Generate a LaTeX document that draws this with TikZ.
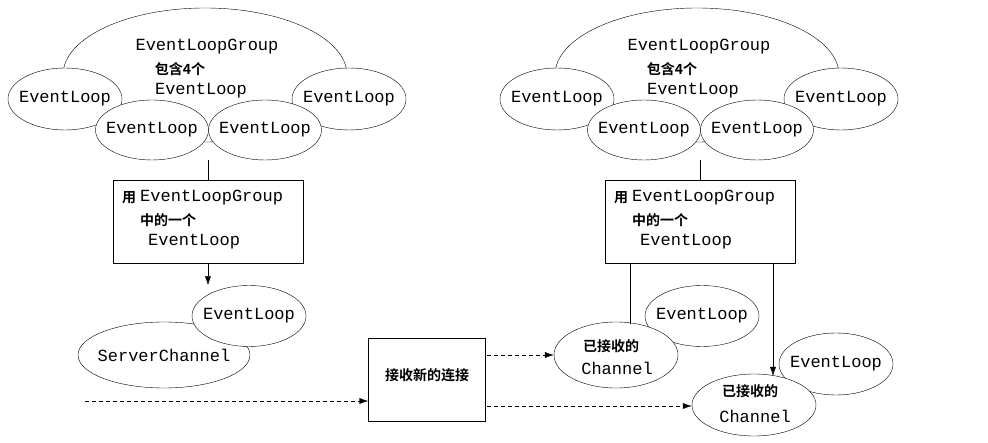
\documentclass[tikz,border=0pt]{standalone}
\usepackage{fontspec}
\setmonofont{Liberation Mono}
\newfontfamily\cjk{Noto Sans CJK SC}[BoldFont={Noto Sans CJK SC Bold}]
\usetikzlibrary{shapes.geometric,arrows.meta}
\begin{document}
\begin{tikzpicture}[x=1pt,y=-1pt,
  el/.style 2 args={draw,ellipse,fill=white,minimum width=#1,minimum height=#2,inner sep=0pt},
  tt/.style={font=\fontsize{17}{18}\selectfont\ttfamily,inner sep=0pt},
  zh/.style={font=\fontsize{14}{16}\selectfont\cjk\bfseries,inner sep=0pt},
  box/.style={draw,fill=white},
  arr/.style={-{Latex[length=9pt,width=6pt]}},
  darr/.style={arr,dash pattern=on 4pt off 3pt}]
\useasboundingbox (0,0) rectangle (988,443);
\foreach \s/\p in {0/L,492/R}{
\begin{scope}[xshift=\s]
\node[el={284pt}{134pt}] (\p g) at (205,75) {};
\node[tt] (\p gt) at (207,47) {EventLoopGroup};
\node[zh] (\p gz) at (180,69) {包含4个};
\node[tt] (\p ge) at (201,91) {EventLoop};
\node[el={114pt}{62pt},label={[tt]center:EventLoop}] (\p e1) at (65,99) {};
\node[el={114pt}{62pt},label={[tt]center:EventLoop}] (\p e4) at (349,99) {};
\node[el={113pt}{60pt},label={[tt]center:EventLoop}] (\p e2) at (152,130) {};
\node[el={113pt}{60pt},label={[tt]center:EventLoop}] (\p e3) at (265,130) {};
\draw[box] (113,180) rectangle (303,263);
\node[zh,anchor=west] (\p b1) at (122,198) {用};
\node[tt,anchor=west] (\p b2) at (140,198) {EventLoopGroup};
\node[zh,anchor=west] (\p b3) at (140,220) {中的一个};
\node[tt,anchor=west] (\p b4) at (148,242) {EventLoop};
\coordinate (\p top) at (208,180);
\coordinate (\p mid) at (208,160);
\end{scope}}
\draw (Lmid) -- (Ltop);
\draw (Rmid) -- (Rtop);
% left bottom
\node[el={172pt}{66pt},label={[tt]center:ServerChannel}] (sc) at (164,355) {};
\node[el={114pt}{61pt},label={[tt]center:EventLoop}] (sel) at (249,316) {};
\coordinate (lb) at (208,263);
\draw[arr] (lb) -- (lb |- sel.north);
% middle box
\node[box,minimum width=117pt,minimum height=83pt] (acc) at (427,380) {};
\node[zh] (acct) at (427,375) {接收新的连接};
\coordinate (in) at (85,401);
\draw[darr] (in) -- (in -| acc.west);
% right bottom
\node[el={114pt}{61pt},label={[tt]center:EventLoop}] (rel1) at (702,316) {};
\node[el={124pt}{66pt}] (ch1) at (616,355) {};
\node[zh] (ch1a) at (611,346) {已接收的};
\node[tt] (ch1b) at (617,368) {Channel};
\node[el={114pt}{62pt},label={[tt]center:EventLoop}] (rel2) at (836,364) {};
\node[el={124pt}{62pt}] (ch2) at (754,405) {};
\node[zh] (ch2a) at (750,391) {已接收的};
\node[tt] (ch2b) at (755,416) {Channel};
\coordinate (r1) at (630,263);
\coordinate (r1e) at (630,324);
\draw (r1) -- (r1e);
\coordinate (r2) at (773,263);
\draw[arr] (r2) -- (773,376);
\coordinate (o1) at (487,355);
\draw[darr] (o1) -- (ch1.west |- o1);
\coordinate (o2) at (487,406);
\draw[darr] (o2) -- (ch2.west |- o2);
\end{tikzpicture}
\end{document}
